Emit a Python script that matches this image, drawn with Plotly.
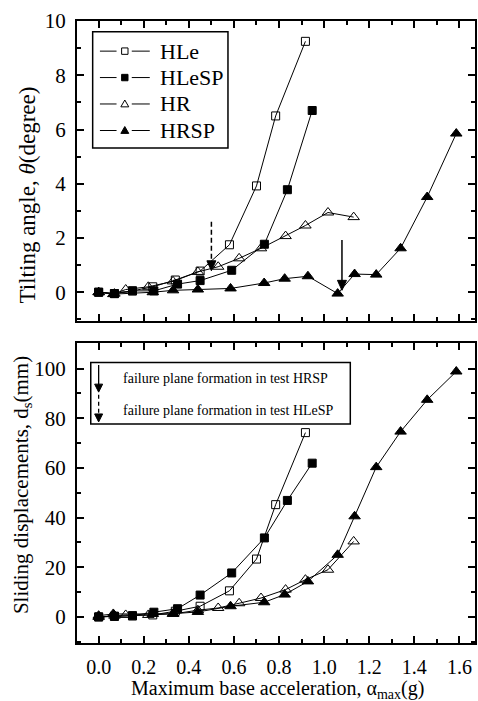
import plotly.graph_objects as go

# ---------------- data ----------------
hle_x = [0, 0.07, 0.15, 0.24, 0.34, 0.45, 0.58, 0.70, 0.785, 0.917]
hle_theta = [0, -0.05, 0.05, 0.2, 0.45, 0.78, 1.75, 3.92, 6.5, 9.25]
hle_d = [0, 0.2, 0.4, 0.8, 2.3, 4.3, 10.5, 23.3, 45.2, 74.2]

hlesp_x = [0, 0.07, 0.15, 0.245, 0.35, 0.45, 0.59, 0.735, 0.837, 0.947]
hlesp_theta = [0, -0.05, 0.05, 0.05, 0.3, 0.43, 0.81, 1.77, 3.78, 6.7]
hlesp_d = [0, 0.3, 0.5, 1.9, 3.3, 8.8, 17.7, 31.8, 46.9, 61.9]

hr_x = [0, 0.07, 0.12, 0.22, 0.33, 0.44, 0.53, 0.623, 0.72, 0.829, 0.917, 1.017, 1.131]
hr_theta = [0, -0.05, 0.1, 0.2, 0.4, 0.75, 0.94, 1.25, 1.62, 2.07, 2.46, 2.94, 2.77]
hr_d = [0, 0.5, 0.8, 0.8, 1.2, 2.7, 3.6, 5.5, 7.6, 11.0, 15.0, 19.0, 30.4]

hrsp_x = [0, 0.065, 0.24, 0.33, 0.44, 0.585, 0.734, 0.825, 0.928, 1.06, 1.135, 1.231, 1.339, 1.457, 1.586]
hrsp_theta = [0, -0.07, 0.0, 0.07, 0.1, 0.14, 0.34, 0.5, 0.59, -0.05, 0.67, 0.65, 1.62, 3.51, 5.85]
hrsp_d = [0.5, 1.2, 1.2, 1.3, 2.0, 4.3, 5.9, 9.0, 14.3, 25.0, 40.5, 60.3, 74.6, 87.4, 98.8]

series_names = ["HLe", "HLeSP", "HR", "HRSP"]

# failure-plane arrows (x, y_start, y_tip) in the top panel
fail_hrsp = (1.079, 1.93, 0.07)
fail_hlesp = (0.5, 2.6, 0.79)

legend_bottom_texts = ["failure plane formation in test HRSP",
                       "failure plane formation in test HLeSP"]

x_ticks = [0.0, 0.2, 0.4, 0.6, 0.8, 1.0, 1.2, 1.4, 1.6]
x_tick_labels = ["0.0", "0.2", "0.4", "0.6", "0.8", "1.0", "1.2", "1.4", "1.6"]
theta_ticks = [0, 2, 4, 6, 8, 10]
d_ticks = [0, 20, 40, 60, 80, 100]

FONT = "Liberation Serif"

styles = {
    "HLe": dict(symbol="square-open", size=8),
    "HLeSP": dict(symbol="square", size=8),
    "HR": dict(symbol="triangle-up-open", size=10),
    "HRSP": dict(symbol="triangle-up", size=10),
}

fig = go.Figure()

data = [
    ("HLe", hle_x, hle_theta, hle_d),
    ("HLeSP", hlesp_x, hlesp_theta, hlesp_d),
    ("HR", hr_x, hr_theta, hr_d),
    ("HRSP", hrsp_x, hrsp_theta, hrsp_d),
]

for name, xs, th, dd in data:
    st = styles[name]
    mk = dict(symbol=st["symbol"], size=st["size"], color="black",
              line=dict(color="black", width=1))
    fig.add_trace(go.Scatter(x=xs, y=th, mode="lines+markers", name=name,
                             line=dict(color="black", width=1), marker=mk,
                             xaxis="x", yaxis="y", showlegend=False))
    fig.add_trace(go.Scatter(x=xs, y=dd, mode="lines+markers", name=name,
                             line=dict(color="black", width=1), marker=mk,
                             xaxis="x2", yaxis="y2", showlegend=False))


def axis_common(size):
    return dict(
        showline=True, linewidth=2, linecolor="black", mirror="allticks",
        ticks="inside", ticklen=7, tickwidth=1.5, tickcolor="black",
        showgrid=False, zeroline=False,
        tickfont=dict(family=FONT, size=size, color="black"),
    )


xr = [-0.096, 1.669]
fig.update_layout(
    width=478, height=701,
    margin=dict(l=77, r=1, t=21, b=58),
    paper_bgcolor="white", plot_bgcolor="white",
    font=dict(family=FONT, color="black"),
    showlegend=False,
    xaxis=dict(axis_common(20), domain=[0, 1], range=xr, tickvals=x_ticks,
               showticklabels=False, anchor="y",
               minor=dict(dtick=0.1, tick0=0, ticks="inside", ticklen=4, tickcolor="black")),
    yaxis=dict(axis_common(21), domain=[0.5177, 1], range=[-1.06, 10], tickvals=theta_ticks,
               anchor="x", ticklabelstandoff=5,
               minor=dict(dtick=1, tick0=0, ticks="inside", ticklen=4, tickcolor="black")),
    xaxis2=dict(axis_common(20), domain=[0, 1], range=xr, tickvals=x_ticks,
                ticktext=x_tick_labels, anchor="y2", ticklabelstandoff=5,
                minor=dict(dtick=0.1, tick0=0, ticks="inside", ticklen=4, tickcolor="black")),
    yaxis2=dict(axis_common(21), domain=[0, 0.4828], range=[-10.5, 110.4], tickvals=d_ticks,
                anchor="x2", ticklabelstandoff=5,
                minor=dict(dtick=10, tick0=0, ticks="inside", ticklen=4, tickcolor="black")),
)

annotations = []
shapes = []


def tri_down_head(x, y, xref, yref, w=4.5, h=10):
    # arrowhead whose tip sits at (x, y); sizes in pixels
    return dict(type="path", xref=xref, yref=yref, xsizemode="pixel", ysizemode="pixel",
                xanchor=x, yanchor=y, path=f"M {-w},{h} L {w},{h} L 0,0 Z",
                fillcolor="black", line=dict(color="black", width=1), layer="above")


def marker_shape(x, y, xref, yref, kind, s):
    if kind.startswith("square"):
        path = f"M {-s},{-s} L {s},{-s} L {s},{s} L {-s},{s} Z"
    else:
        path = f"M {-s*1.1},{-s*0.8} L {s*1.1},{-s*0.8} L 0,{s*1.1} Z"
    filled = not kind.endswith("open")
    return dict(type="path", xref=xref, yref=yref, xsizemode="pixel", ysizemode="pixel",
                xanchor=x, yanchor=y, path=path,
                fillcolor="black" if filled else "white",
                line=dict(color="black", width=1), layer="above")


# axis titles
annotations.append(dict(text="Tilting angle, <i>θ</i>(degree)", xref="paper", yref="paper",
                        x=-0.125, y=0.72, xanchor="center", yanchor="middle", textangle=-90,
                        showarrow=False, font=dict(family=FONT, size=23, color="black")))
annotations.append(dict(text="Sliding displacements, d<sub>s</sub>(mm)", xref="paper", yref="paper",
                        x=-0.138, y=0.254, xanchor="center", yanchor="middle", textangle=-90,
                        showarrow=False, font=dict(family=FONT, size=21, color="black")))
annotations.append(dict(text="Maximum base acceleration, α<sub>max</sub>(g)", xref="paper", yref="paper",
                        x=0.505, y=-0.0745, xanchor="center", yanchor="middle",
                        showarrow=False, font=dict(family=FONT, size=20, color="black")))

# failure arrows in the top panel
fx, fy0, fy1 = fail_hrsp
shapes.append(dict(type="line", xref="x", yref="y", x0=fx, x1=fx, y0=fy0, y1=fy1 + 0.3,
                   line=dict(color="black", width=1.5), layer="above"))
shapes.append(tri_down_head(fx, fy1, "x", "y"))
gx, gy0, gy1 = fail_hlesp
shapes.append(dict(type="line", xref="x", yref="y", x0=gx, x1=gx, y0=gy0, y1=gy1 + 0.3,
                   line=dict(color="black", width=1.5, dash="5px,3px"), layer="above"))
shapes.append(tri_down_head(gx, gy1, "x", "y"))

# top legend (drawn manually)
shapes.append(dict(type="rect", xref="x", yref="y", x0=-0.0265, x1=0.5735, y0=5.32, y1=9.60,
                   line=dict(color="black", width=1.5), fillcolor="white", layer="above"))
legend_rows_y = [8.889, 7.915, 6.941, 5.963]
for name, ly in zip(series_names, legend_rows_y):
    shapes.append(dict(type="line", xref="x", yref="y", x0=0.0057, x1=0.0794, y0=ly, y1=ly,
                       line=dict(color="black", width=1), layer="above"))
    shapes.append(dict(type="line", xref="x", yref="y", x0=0.1469, x1=0.2267, y0=ly, y1=ly,
                       line=dict(color="black", width=1), layer="above"))
    kind = styles[name]["symbol"]
    shapes.append(marker_shape(0.116, ly, "x", "y", kind, 3.2 if kind.startswith("square") else 3.6))
    annotations.append(dict(text=name, xref="x", yref="y", x=0.262, y=ly, xanchor="left",
                            yanchor="middle", showarrow=False,
                            font=dict(family=FONT, size=22, color="black")))

# bottom legend
shapes.append(dict(type="rect", xref="x2", yref="y2", x0=-0.035, x1=1.116, y0=77.7, y1=102.4,
                   line=dict(color="black", width=1.5), fillcolor="white", layer="above"))
shapes.append(dict(type="line", xref="x2", yref="y2", x0=0.0, x1=0.0, y0=101.4, y1=93.0,
                   line=dict(color="black", width=1.3), layer="above"))
shapes.append(tri_down_head(0.0, 90.5, "x2", "y2", w=4, h=8))
shapes.append(dict(type="line", xref="x2", yref="y2", x0=0.0, x1=0.0, y0=89.4, y1=81.0,
                   line=dict(color="black", width=1.3, dash="4px,3px"), layer="above"))
shapes.append(tri_down_head(0.0, 78.5, "x2", "y2", w=4, h=8))
for txt, ty in zip(legend_bottom_texts, [96.1, 83.0]):
    annotations.append(dict(text=txt, xref="x2", yref="y2", x=0.10, y=ty, xanchor="left",
                            yanchor="middle", showarrow=False,
                            font=dict(family=FONT, size=14, color="black")))

fig.update_layout(annotations=annotations, shapes=shapes)

fig.write_html("out.html")
